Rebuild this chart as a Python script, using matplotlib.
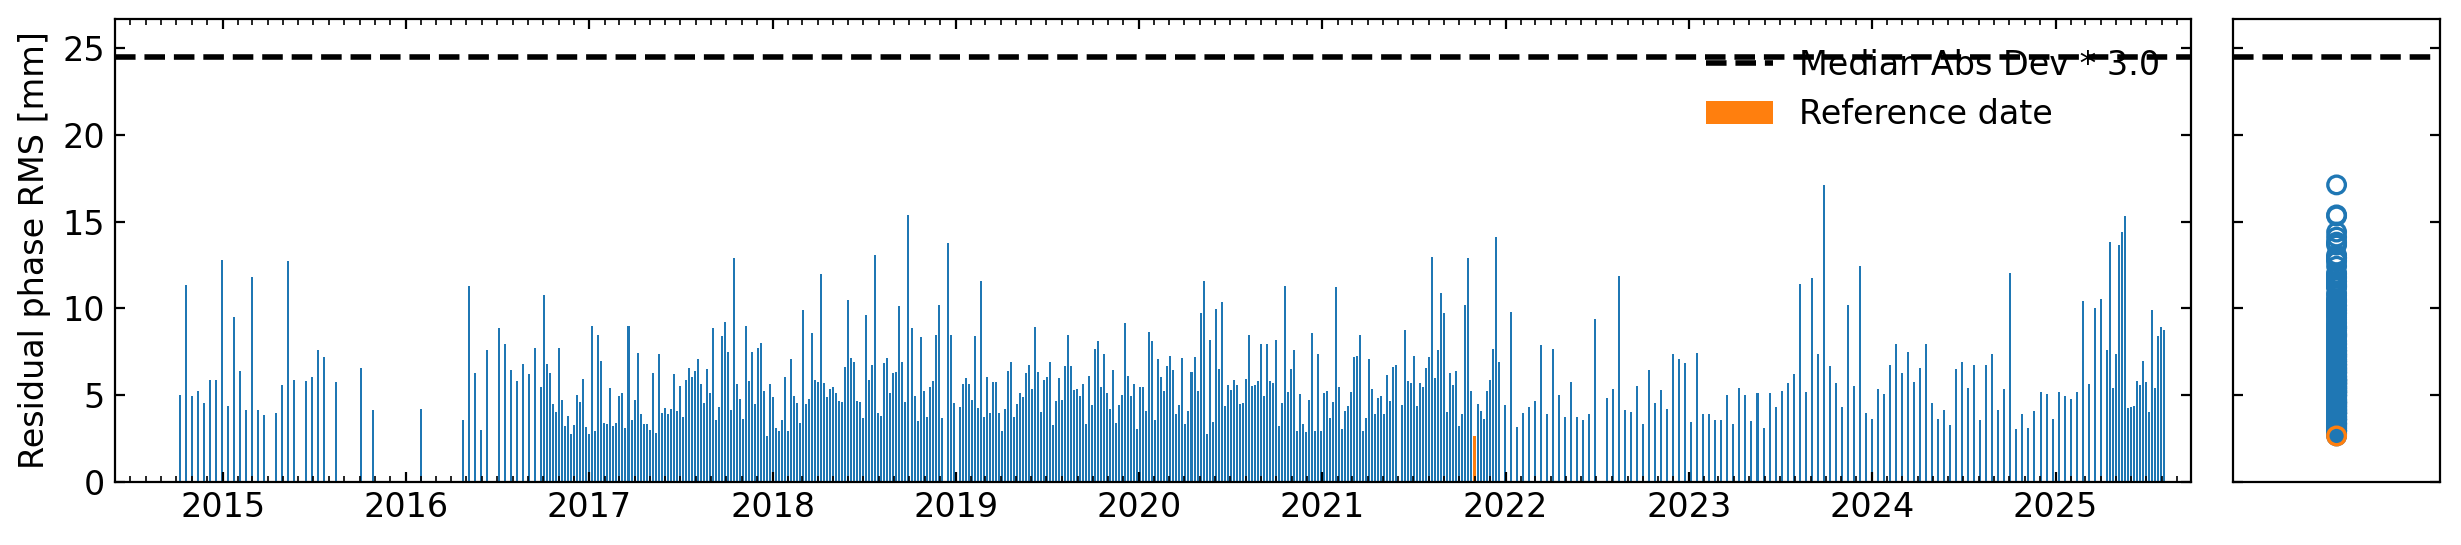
import matplotlib
matplotlib.use("Agg")
import matplotlib.pyplot as plt
import matplotlib.dates as mdates
import numpy as np
import pandas as pd

BLUE = "#1f77b4"
ORANGE = "#ff7f0e"

# Residual phase RMS [mm] per acquisition.
# None = no acquisition at that slot of the repeat-pass grid.
SEG1_START, SEG1_STEP = "2014-10-08", 12
SEG1 = [5.02, 11.33, 4.96, 5.25, 4.56, 5.89, 5.89, 12.78, 4.38, 9.48,
        6.41, 4.15, 11.80, 4.15, 3.86, None, 3.98, 5.60, 12.72, 5.89,
        None, 5.83, 6.06, 7.57, 7.22, None, 5.77, None, None, None,
        6.58, None, 4.15, None, None, None, None, None, None, None,
        4.21, None, None, None, None, None, None, 3.57, 11.27, 6.29,
        2.99, 7.57, None, 8.84, 7.97, 6.47, 5.83, 6.81, 6.24, 7.74]

SEG2_START, SEG2_STEP = "2016-09-27", 6
SEG2 = [
    # 2016-09 .. 2018-03
    5.48, 10.75, 6.81, 6.29, 4.50, 4.03, 7.74, 4.73, 3.22, 3.80,
    2.76, 3.28, 5.02, 4.61, 5.95, 3.17, 2.76, 8.96, 2.93, 8.44,
    6.99, 3.40, 3.34, 5.42, 3.22, 3.40, 4.96, 5.14, 3.11, 8.96,
    3.57, 4.73, 7.45, 3.92, 3.34, 3.34, 2.99, 6.29, 2.82, 7.34,
    3.98, 4.27, 3.92, 4.21, 6.24, 4.09, 5.54, 3.75, 5.89, 6.58,
    6.06, 6.41, 7.10, 5.66, 4.56, 6.53, 5.14, 8.84, 3.57, 4.32,
    8.38, 9.19, 7.51, 4.15, 12.90, 5.66, 4.79, 3.63, 8.96, 5.83,
    7.51, 4.50, 7.74, 8.03, 5.25, 2.64, 5.66, 4.90, 3.11, 2.93,
    3.57, 6.06, 2.93, 7.05, 4.96, 4.56, 3.40, 9.88, 4.50, 4.79,
    # 2018-03 .. 2020-01
    8.55, 5.89, 5.77, 11.97, 5.71, 4.90, 5.37, 5.48, 5.14, 4.67,
    4.61, 6.64, 10.46, 7.16, 6.93, 4.67, 4.61, 3.69, 9.59, 5.89,
    6.76, 13.07, 3.98, 3.80, 6.87, 7.16, 5.14, 6.29, 6.35, 10.12,
    6.93, 4.61, 15.39, 8.84, 4.96, 3.51, 8.32, 5.25, 3.75, 5.48,
    5.83, 8.49, 10.17, 3.69, None, 13.76, 8.44, 4.56, None, 4.32,
    5.66, 6.00, 5.66, 4.73, 8.38, 4.27, 11.56, 3.75, 6.06, 3.98,
    5.77, 5.77, 3.98, 2.93, 4.21, 6.41, 6.93, 3.75, 4.50, 5.14,
    4.90, 6.29, 6.76, 5.37, 8.90, 6.35, 4.03, 5.89, 6.06, 6.93,
    3.28, 4.67, 6.00, 4.73, 6.70, 8.49, 6.70, 5.31, 5.37, 4.96,
    5.66, 3.34, 6.12, 4.44, 7.68, 8.09, 5.48, 7.34, 5.14, 4.21,
    6.47, 3.40, 4.44, 5.02, 9.13, 6.12, 4.96, 5.66, 3.05, 5.48,
    5.48, 4.09, 8.61, 8.09, 3.57, 7.05,
    # 2020-01 .. 2021-12
    6.06, 5.25, 6.70, 7.28, 6.47, 3.92, 4.44, 7.16, 3.34, 4.09,
    6.35, 7.22, 5.25, 9.71, 11.56, 2.76, 8.15, 3.46, 9.94, 6.53,
    10.35, 4.38, 5.60, 5.31, 5.89, 5.60, 4.50, 4.56, 5.95, 8.49,
    5.54, 5.60, 5.83, 7.92, 4.96, 7.92, 5.83, 5.71, 8.15, 3.22,
    4.56, 11.27, 5.19, 6.53, 7.57, 2.93, 5.08, 3.34, 2.88, 4.73,
    8.55, 2.93, 7.34, 2.93, 5.14, 5.25, 3.69, 4.61, 11.22, 5.48,
    3.05, 4.09, 4.38, 5.19, 7.22, 7.28, 8.44, 2.93, 3.69, 7.05,
    5.37, 3.92, 4.85, 4.96, 3.92, 6.18, 4.67, 6.64, 6.76, None,
    4.44, 8.73, 5.83, 5.71, 7.28, 4.38, 5.71, 5.48, 6.58, 7.22,
    12.95, 6.00, 7.57, 10.87, 9.71, 4.03, 6.29, 5.60, 6.41, 3.22,
    3.92, 10.17, 12.90, 5.25, 2.64, 4.50, 4.09, 3.63, 5.25, 5.89,
    7.63, 14.11, 6.93,
]

SEG3_START, SEG3_STEP = "2021-12-30", 12
SEG3 = [
    4.44, 9.77,
    3.17, 3.98, 4.32, 4.67, 7.86, 3.92, 7.68, 5.02, 3.75, 5.77,
    3.75, 3.57, 3.92, 9.36, None, 4.85, 5.37, 11.85, 4.15, 4.03,
    5.54, 3.34, 6.47, 4.56, 5.31, 4.21, 7.39, 7.05, 6.87, 3.46,
    7.45, 3.92, 3.92, 3.57, 3.57, 5.02, 3.34, 5.42, 5.02, 3.51,
    5.14, 3.11, 5.14, 4.32, 5.25, 5.71, 6.24, 11.39, 5.19, 11.74,
    7.34, 17.12, 6.70, 5.71, 4.32, 10.17, 5.54, 12.43,
    3.98, 3.63, 5.37, 5.08, 6.76, 7.92, 6.29, 7.51, 5.77, 6.58,
    7.97, 4.56, 3.63, 4.15, 3.28, 6.53, 6.93, 5.42, 6.76, 3.57,
    6.76, 7.39, 4.15, 5.37, 12.03, 3.05, 3.92, 3.11, 4.09, 5.19,
    5.08, 3.63, 5.19, 4.96, 4.79, 5.19, 10.41, 5.66, 10.00, 10.52,
    7.57,
]

SEG4_START, SEG4_STEP = "2025-04-19", 6
SEG4 = [13.82, 5.42, 7.34, 13.65, 14.40, 15.33, 4.27, 4.32, 4.38, 5.83,
        5.60, 6.99, 5.77, 4.03, 9.88, 5.42, 8.38, 8.90, 8.73]

REFERENCE_DATE = "2021-10-31"
MAD_THRESHOLD = 24.5
MAD_LABEL = "Median Abs Dev * 3.0"


def build_series():
    parts = []
    for start, step, vals in [(SEG1_START, SEG1_STEP, SEG1),
                              (SEG2_START, SEG2_STEP, SEG2),
                              (SEG3_START, SEG3_STEP, SEG3),
                              (SEG4_START, SEG4_STEP, SEG4)]:
        idx = pd.date_range(start, periods=len(vals), freq=f"{step}D")
        parts.append(pd.Series(vals, index=idx, dtype=float))
    return pd.concat(parts).dropna()


rms = build_series()
ref_idx = np.argmin(np.abs((rms.index - pd.Timestamp(REFERENCE_DATE)).days))
ref_date = rms.index[ref_idx]
ref_val = rms.iloc[ref_idx]

plt.rcParams["font.size"] = 12
fig = plt.figure(figsize=(12.305, 2.725), dpi=200)
ax = fig.add_axes([0.0466, 0.1161, 0.8435, 0.8494])
ax_hist = fig.add_axes([0.9074, 0.1161, 0.0841, 0.8494], sharey=ax)

ax.bar(rms.index, rms.values, width=4, color=BLUE)
ax.bar([ref_date], [ref_val], width=4, color=ORANGE, label="Reference date")
ax.axhline(MAD_THRESHOLD, color="k", ls="--", lw=2, label=MAD_LABEL)

ax.set_ylabel("Residual phase RMS [mm]")
ax.set_ylim(0, 26.7)
ax.set_xlim(pd.Timestamp("2014-05-31"), pd.Timestamp("2025-09-27"))
ax.xaxis.set_major_locator(mdates.YearLocator())
ax.xaxis.set_minor_locator(mdates.MonthLocator())
ax.xaxis.set_major_formatter(mdates.DateFormatter("%Y"))
ax.tick_params(which="both", direction="in", top=True, right=True)
ax.set_yticks([0, 5, 10, 15, 20, 25])

handles, labels = ax.get_legend_handles_labels()
order = [labels.index(MAD_LABEL), labels.index("Reference date")]
ax.legend([handles[i] for i in order], [labels[i] for i in order],
          loc="upper right", frameon=False)

# distribution panel
others = rms.drop(ref_date)
ax_hist.scatter(np.zeros(len(others)), others.values, s=40,
                facecolors="none", edgecolors=BLUE, linewidths=1.2)
ax_hist.scatter([0], [ref_val], s=40, facecolors="none",
                edgecolors=ORANGE, linewidths=1.2)
ax_hist.axhline(MAD_THRESHOLD, color="k", ls="--", lw=2)
ax_hist.set_xlim(-1, 1)
ax_hist.set_xticks([])
ax_hist.tick_params(axis="y", direction="in", left=True, right=True,
                    labelleft=False)

fig.savefig("out.png", dpi=200)
